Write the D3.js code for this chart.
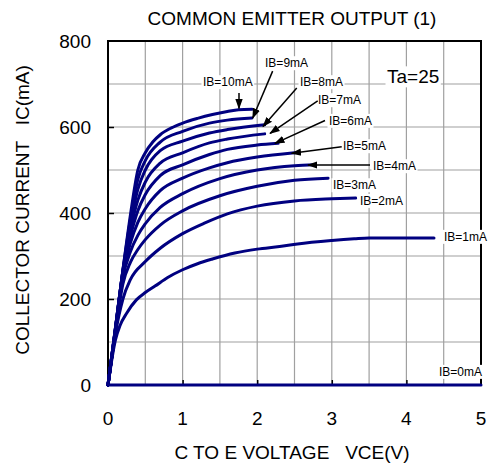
<!DOCTYPE html>
<html><head><meta charset="utf-8">
<script src="https://cdn.jsdelivr.net/npm/d3@7"></script>
<style>
body{margin:0;background:#fff;}
svg text{font-family:"Liberation Sans",Arial,sans-serif;fill:#000;}
</style></head>
<body><svg id="c" width="488" height="465"></svg>
<script>
// ---- data ----
const title = "COMMON EMITTER OUTPUT (1)";
const xTitle = "C TO E VOLTAGE   VCE(V)";
const yTitle = "COLLECTOR CURRENT   IC(mA)";
const xTicks = [0,1,2,3,4,5];
const yTicks = [0,200,400,600,800];
const seriesNames = ["IB=0mA","IB=1mA","IB=2mA","IB=3mA","IB=4mA","IB=5mA","IB=6mA","IB=7mA","IB=8mA","IB=9mA","IB=10mA"];
const ib0 = [[0,0],[5,0]];
const ib1 = [[0,0],[0.1,105],[0.16,138],[0.25,167],[0.38,198],[0.5,215],[0.63,230],[0.8,250],[1.0,268],[1.2,282],[1.4,293],[1.7,307],[2.0,316],[2.3,322],[2.54,328],[3.0,336],[3.3,340],[3.5,342],[4.37,342]];
const ib2 = [[0,0],[0.1,120],[0.2,200],[0.3,245],[0.5,287],[0.7,318],[1.0,352],[1.3,377],[1.6,398],[2.0,416],[2.5,428],[3.0,433],[3.32,435]];
const ib3 = [[0,0],[0.1,125],[0.2,235],[0.3,285],[0.4,315],[0.5,338],[0.7,372],[1.0,405],[1.5,440],[2.0,462],[2.5,476],[2.95,481]];
const ib4 = [[0,0],[0.1,128],[0.2,250],[0.3,310],[0.4,348],[0.5,375],[0.7,413],[1.0,445],[1.5,480],[2.0,500],[2.5,510],[2.77,512]];
const ib5 = [[0,0],[0.1,130],[0.2,258],[0.3,330],[0.4,378],[0.5,410],[0.7,452],[1.0,481],[1.36,505],[1.6,517],[2.0,530],[2.5,540]];
const ib6 = [[0,0],[0.1,130],[0.2,262],[0.3,345],[0.4,405],[0.5,443],[0.7,487],[1.0,512],[1.36,536],[1.6,548],[2.0,558],[2.28,562]];
const ib7 = [[0,0],[0.1,132],[0.2,265],[0.3,360],[0.4,430],[0.5,472],[0.7,516],[1.0,540],[1.36,563],[1.6,572],[2.1,584]];
const ib8 = [[0,0],[0.1,132],[0.2,266],[0.3,372],[0.4,455],[0.5,500],[0.7,545],[1.0,567],[1.36,586],[1.6,594],[2.1,605]];
const ib9 = [[0,0],[0.1,133],[0.2,267],[0.3,385],[0.4,478],[0.5,522],[0.7,565],[1.0,590],[1.36,609],[1.6,616],[1.93,621]];
const ib10 = [[0,0],[0.1,133],[0.2,268],[0.3,395],[0.4,500],[0.5,540],[0.6,565],[0.7,582],[0.85,598],[1.0,609],[1.2,620],[1.4,629],[1.6,636],[1.75,640],[1.93,641]];
const series = [ib0,ib1,ib2,ib3,ib4,ib5,ib6,ib7,ib8,ib9,ib10];
// label positions (data units)
const labelX = [4.437,4.504,3.378,3.016,3.552,3.150,2.962,2.815,2.574,2.105,1.273];
const labelY = [31,345,428.6,465,509.3,555.8,614.7,662.8,704.7,748.8,704.7];
const arrowFrom = [null,null,null,null,[3.512,511.6],[3.133,554],[2.909,615],[2.811,660.5],[2.530,690.7],[2.207,730],[1.756,679]];
const arrowTo = [null,null,null,null,[2.681,511.6],[2.462,538.8],[2.239,562],[2.172,585.3],[2.078,601],[1.940,621],[1.756,643]];
const tempLabel = "Ta=25";
const tempPos = [3.74,717];

// ---- chart ----
const svg = d3.select("#c");
const x = d3.scaleLinear().domain([0,5]).range([108,481]);
const y = d3.scaleLinear().domain([0,800]).range([385,41]);

// grid
const g = svg.append("g");
g.selectAll(".vg").data(d3.range(0.5,5,0.5)).join("line")
  .attr("x1",d=>x(d)).attr("x2",d=>x(d)).attr("y1",y(0)).attr("y2",y(800))
  .attr("stroke","#a0a0a0").attr("stroke-width",1.2);
g.selectAll(".hg").data(d3.range(100,800,100)).join("line")
  .attr("x1",x(0)).attr("x2",x(5)).attr("y1",d=>y(d)).attr("y2",d=>y(d))
  .attr("stroke","#a0a0a0").attr("stroke-width",1.2);

// axes (inward ticks)
const xAxis = d3.axisTop(x).tickValues(xTicks.slice(1,-1)).tickSize(5).tickFormat("");
svg.append("g").attr("transform",`translate(0,${y(0)})`).call(xAxis)
  .call(a=>a.select(".domain").remove()).selectAll("line").attr("stroke","#000").attr("stroke-width",1.5);
const yAxis = d3.axisRight(y).tickValues(yTicks.slice(1,-1)).tickSize(6).tickFormat("");
svg.append("g").attr("transform",`translate(${x(0)},0)`).call(yAxis)
  .call(a=>a.select(".domain").remove()).selectAll("line").attr("stroke","#000").attr("stroke-width",1.5);

// frame
svg.append("path").attr("d",`M${x(0)},${y(0)}V${y(800)}H${x(5)}V${y(0)}`)
  .attr("fill","none").attr("stroke","#000").attr("stroke-width",2);

// tick labels
svg.append("g").selectAll("text").data(xTicks).join("text")
  .attr("x",d=>x(d)).attr("y",425).attr("text-anchor","middle").attr("font-size",19).text(d=>d);
svg.append("g").selectAll("text").data(yTicks).join("text")
  .attr("x",91).attr("y",d=>y(d)).attr("dy","0.35em").attr("text-anchor","end").attr("font-size",19).text(d=>d);

// titles
svg.append("text").attr("x",292).attr("y",25).attr("text-anchor","middle").attr("font-size",19).text(title);
svg.append("text").attr("x",292).attr("y",459).attr("text-anchor","middle").attr("font-size",19)
  .attr("xml:space","preserve").style("white-space","pre").text(xTitle);
svg.append("text").attr("transform","translate(29,210) rotate(-90)").attr("text-anchor","middle").attr("font-size",19)
  .attr("xml:space","preserve").style("white-space","pre").text(yTitle);

// labels with white background
const lab = svg.append("g");
function addLabel(t,px,py,fs){
  const tx = lab.append("text").attr("x",px).attr("y",py).attr("dy","0.35em").attr("font-size",fs).text(t);
  const b = tx.node().getBBox();
  lab.insert("rect","text").attr("x",b.x-1.5).attr("y",b.y).attr("width",b.width+3).attr("height",b.height).attr("fill","#fff");
}
seriesNames.forEach((n,i)=>addLabel(n,x(labelX[i]),y(labelY[i]),12));
addLabel(tempLabel,x(tempPos[0]),y(tempPos[1]),19);

// curves
const line = d3.line().x(d=>x(d[0])).y(d=>y(d[1])).curve(d3.curveMonotoneX);
svg.append("g").selectAll("path").data(series).join("path")
  .attr("d",line).attr("fill","none").attr("stroke","#000080").attr("stroke-width",3)
  .attr("stroke-linejoin","round").attr("stroke-linecap","round");

// arrows
svg.append("defs").append("marker").attr("id","ah").attr("viewBox","0 0 10 10")
  .attr("refX",9).attr("refY",5).attr("markerWidth",7).attr("markerHeight",7).attr("orient","auto")
  .append("path").attr("d","M0,1.5L10,5L0,8.5Z").attr("fill","#000");
const arrIdx = d3.range(series.length).filter(i=>arrowFrom[i]);
svg.append("g").selectAll("line").data(arrIdx).join("line")
  .attr("x1",i=>x(arrowFrom[i][0])).attr("y1",i=>y(arrowFrom[i][1]))
  .attr("x2",i=>x(arrowTo[i][0])).attr("y2",i=>y(arrowTo[i][1]))
  .attr("stroke","#000").attr("stroke-width",1.5).attr("marker-end","url(#ah)");
</script></body></html>
